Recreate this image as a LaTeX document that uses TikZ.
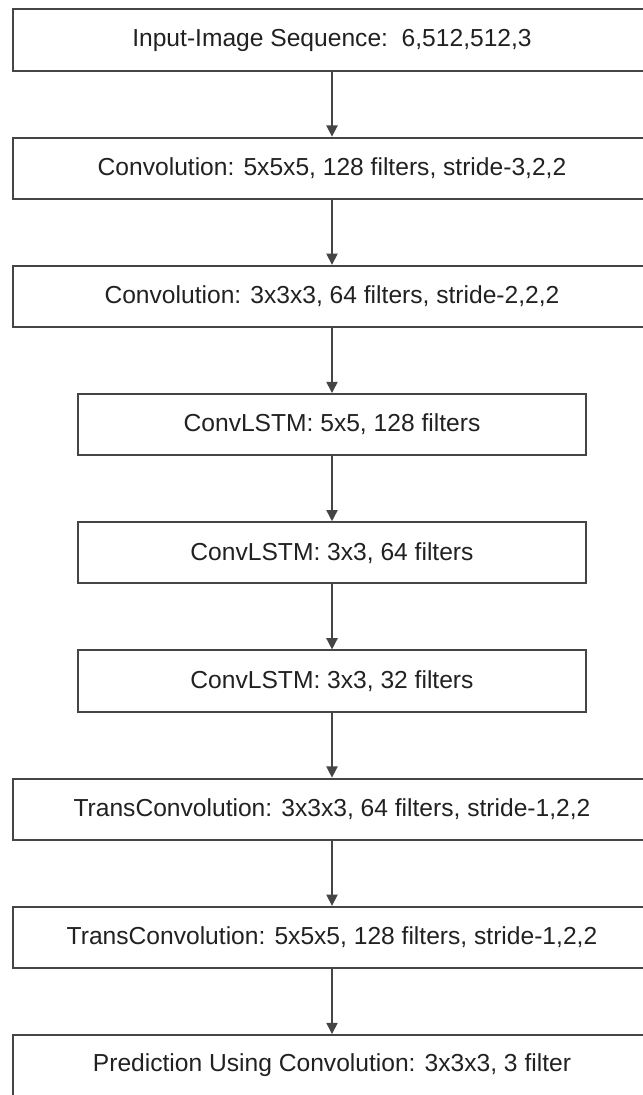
\documentclass[tikz,border=0pt]{standalone}
\usepackage{fontspec}
\setmainfont{Liberation Sans}
\usepackage{xcolor}
\usetikzlibrary{arrows.meta}
\definecolor{boxline}{rgb}{0.27,0.27,0.27}
\definecolor{boxtext}{rgb}{0.13,0.13,0.13}

\begin{document}
\begin{tikzpicture}[
    layer/.style={draw=boxline, line width=1.4pt, minimum height=1.53cm, text=boxtext,
        font=\fontsize{17.5}{20}\selectfont, inner sep=0pt},
    widelayer/.style={layer, minimum width=15.96cm},
    narrowlayer/.style={layer, minimum width=12.71cm},
    flow/.style={draw=boxline, line width=1.1pt, -{Triangle[width=0.28cm,length=0.28cm]}}
]
    % page size
    \useasboundingbox (0,0) rectangle (16.05,-27.375);

    % draw layers
    \node[widelayer] (input) at (8.3,-1.0) {Input-Image Sequence:\ \ 6,512,512,3};
    \node[widelayer] (convA) at (8.3,-4.205) {Convolution: 5x5x5, 128 filters, stride-3,2,2};
    \node[widelayer] (convB) at (8.3,-7.41) {Convolution: 3x3x3, 64 filters, stride-2,2,2};
    \node[narrowlayer] (lstmA) at (8.3,-10.615) {ConvLSTM: 5x5, 128 filters};
    \node[narrowlayer] (lstmB) at (8.3,-13.82) {ConvLSTM: 3x3, 64 filters};
    \node[narrowlayer] (lstmC) at (8.3,-17.025) {ConvLSTM: 3x3, 32 filters};
    \node[widelayer] (transA) at (8.3,-20.23) {TransConvolution: 3x3x3, 64 filters, stride-1,2,2};
    \node[widelayer] (transB) at (8.3,-23.435) {TransConvolution: 5x5x5, 128 filters, stride-1,2,2};
    \node[widelayer] (predict) at (8.3,-26.64) {Prediction Using Convolution: 3x3x3, 3 filter};

    % draw arrows
    \draw[flow] (input) -- (convA);
    \draw[flow] (convA) -- (convB);
    \draw[flow] (convB) -- (lstmA);
    \draw[flow] (lstmA) -- (lstmB);
    \draw[flow] (lstmB) -- (lstmC);
    \draw[flow] (lstmC) -- (transA);
    \draw[flow] (transA) -- (transB);
    \draw[flow] (transB) -- (predict);
\end{tikzpicture}
\end{document}
